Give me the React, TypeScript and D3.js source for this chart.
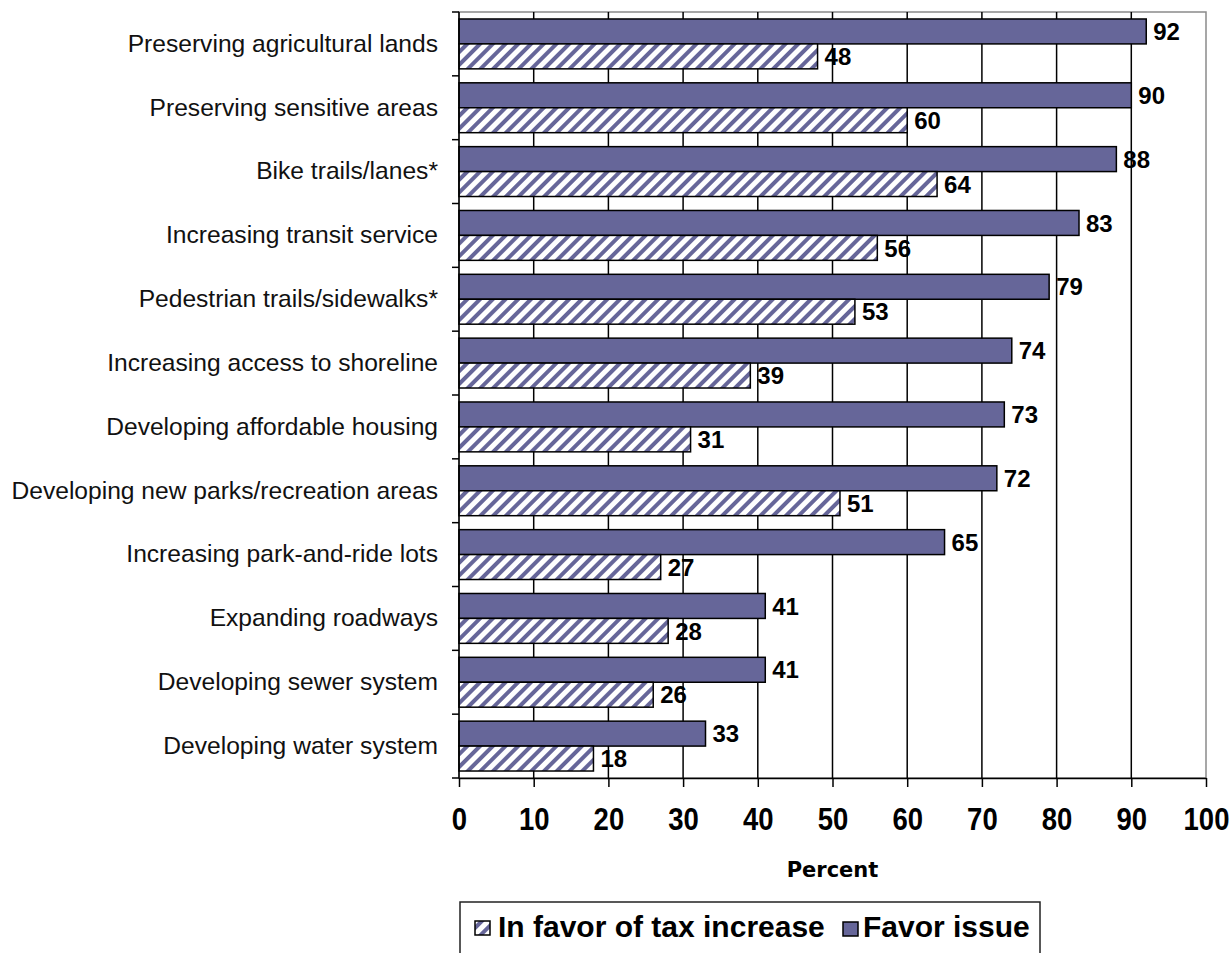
import { useEffect, useRef } from 'react';
import * as d3 from 'd3';

const categories = [
  'Preserving agricultural lands',
  'Preserving sensitive areas',
  'Bike trails/lanes*',
  'Increasing transit service',
  'Pedestrian trails/sidewalks*',
  'Increasing access to shoreline',
  'Developing affordable housing',
  'Developing new parks/recreation areas',
  'Increasing park-and-ride lots',
  'Expanding roadways',
  'Developing sewer system',
  'Developing water system',
];

const favorIssue = [92, 90, 88, 83, 79, 74, 73, 72, 65, 41, 41, 33];
const favorTax = [48, 60, 64, 56, 53, 39, 31, 51, 27, 28, 26, 18];

const xTicks = [0, 10, 20, 30, 40, 50, 60, 70, 80, 90, 100];
const seriesNames = ['In favor of tax increase', 'Favor issue'];

const W = 1232;
const H = 953;
const PURPLE = '#666699';
const FONT = '"Liberation Sans", Arial, sans-serif';

export default function App() {
  const svgRef = useRef<SVGSVGElement>(null);

  useEffect(() => {
    if (!svgRef.current) return;
    const svg = d3.select(svgRef.current);
    svg.selectAll('*').remove();

    const margin = { top: 12, left: 459, right: 26, bottom: 175 };
    const x = d3.scaleLinear().domain([0, 100]).range([margin.left, W - margin.right]);
    const y = d3.scaleBand().domain(categories).range([margin.top, H - margin.bottom]);
    const sub = d3.scaleBand().domain(['issue', 'tax']).range([0, y.bandwidth()]).paddingOuter(0.28);

    // hatch pattern
    const defs = svg.append('defs');
    const pat = defs.append('pattern')
      .attr('id', 'hatch')
      .attr('patternUnits', 'userSpaceOnUse')
      .attr('width', 9)
      .attr('height', 9)
      .attr('patternTransform', 'rotate(45)');
    pat.append('rect').attr('width', 9).attr('height', 9).attr('fill', '#fff');
    pat.append('rect').attr('width', 4).attr('height', 9).attr('fill', PURPLE);

    const [x0, x1] = x.range();
    const [y0, y1] = y.range();

    // plot frame
    svg.append('rect')
      .attr('x', x0).attr('y', y0)
      .attr('width', x1 - x0).attr('height', y1 - y0)
      .attr('fill', '#fff')
      .attr('stroke', '#8a8a8a')
      .attr('stroke-width', 1.5);

    // gridlines
    svg.append('g')
      .selectAll('line')
      .data(xTicks.filter(t => t > 0 && t < 100))
      .join('line')
      .attr('x1', d => x(d)).attr('x2', d => x(d))
      .attr('y1', y0).attr('y2', y1)
      .attr('stroke', '#000')
      .attr('stroke-width', 1.5);

    // bars
    const groups = svg.append('g')
      .selectAll('g')
      .data(categories)
      .join('g')
      .attr('transform', d => `translate(0,${y(d)})`);

    groups.append('rect')
      .attr('x', x(0))
      .attr('y', sub('issue')!)
      .attr('width', (_, i) => x(favorIssue[i]) - x(0))
      .attr('height', sub.bandwidth())
      .attr('fill', PURPLE)
      .attr('stroke', '#000')
      .attr('stroke-width', 1.5);

    groups.append('rect')
      .attr('x', x(0))
      .attr('y', sub('tax')!)
      .attr('width', (_, i) => x(favorTax[i]) - x(0))
      .attr('height', sub.bandwidth())
      .attr('fill', 'url(#hatch)')
      .attr('stroke', '#000')
      .attr('stroke-width', 1.5);

    // value labels
    groups.append('text')
      .attr('x', (_, i) => x(favorIssue[i]) + 7)
      .attr('y', sub('issue')! + sub.bandwidth() / 2)
      .attr('dy', '0.36em')
      .attr('font-family', FONT)
      .attr('font-weight', 'bold')
      .attr('font-size', 24)
      .text((_, i) => favorIssue[i]);

    groups.append('text')
      .attr('x', (_, i) => x(favorTax[i]) + 7)
      .attr('y', sub('tax')! + sub.bandwidth() / 2)
      .attr('dy', '0.36em')
      .attr('font-family', FONT)
      .attr('font-weight', 'bold')
      .attr('font-size', 24)
      .text((_, i) => favorTax[i]);

    // y axis
    const yAxis = svg.append('g');
    yAxis.append('line')
      .attr('x1', x0).attr('x2', x0).attr('y1', y0).attr('y2', y1)
      .attr('stroke', '#000').attr('stroke-width', 1.5);
    const bounds = categories.map(c => y(c)!).concat([y1]);
    yAxis.selectAll('line.tick')
      .data(bounds)
      .join('line')
      .attr('class', 'tick')
      .attr('x1', x0 - 7).attr('x2', x0)
      .attr('y1', d => d).attr('y2', d => d)
      .attr('stroke', '#000').attr('stroke-width', 1.5);
    yAxis.selectAll('text')
      .data(categories)
      .join('text')
      .attr('x', x0 - 21)
      .attr('y', d => y(d)! + y.bandwidth() / 2 - 1)
      .attr('dy', '0.36em')
      .attr('text-anchor', 'end')
      .attr('font-family', FONT)
      .attr('font-size', 24.6)
      .attr('fill', '#111')
      .text(d => d);

    // x axis
    const xAxis = svg.append('g')
      .attr('transform', `translate(0,${y1})`)
      .call(d3.axisBottom(x).tickValues(xTicks).tickSize(9).tickSizeOuter(0).tickPadding(20));
    xAxis.select('.domain').attr('stroke', '#000').attr('stroke-width', 1.5);
    xAxis.selectAll('.tick line').attr('stroke', '#000').attr('stroke-width', 1.5);
    xAxis.selectAll('.tick text')
      .attr('font-family', FONT)
      .attr('font-weight', 'bold')
      .attr('font-size', 32)
      .attr('fill', '#000')
      .attr('transform', 'scale(0.86,1)');

    svg.append('text')
      .attr('x', (x0 + x1) / 2)
      .attr('y', 877)
      .attr('text-anchor', 'middle')
      .attr('font-family', '"DejaVu Sans", Verdana, sans-serif')
      .attr('font-weight', 'bold')
      .attr('font-size', 21)
      .text('Percent');

    // legend
    const lg = svg.append('g');
    lg.append('rect')
      .attr('x', 460).attr('y', 902)
      .attr('width', 580).attr('height', 70)
      .attr('fill', '#fff')
      .attr('stroke', '#222')
      .attr('stroke-width', 1.5);
    lg.append('rect')
      .attr('x', 475).attr('y', 921).attr('width', 15).attr('height', 14)
      .attr('fill', 'url(#hatch)').attr('stroke', '#000').attr('stroke-width', 1.5);
    lg.append('text')
      .attr('x', 498).attr('y', 937)
      .attr('font-family', FONT).attr('font-weight', 'bold').attr('font-size', 30)
      .text(seriesNames[0]);
    lg.append('rect')
      .attr('x', 843).attr('y', 922).attr('width', 15).attr('height', 14)
      .attr('fill', PURPLE).attr('stroke', '#000').attr('stroke-width', 1.5);
    lg.append('text')
      .attr('x', 863).attr('y', 937)
      .attr('font-family', FONT).attr('font-weight', 'bold').attr('font-size', 30)
      .text(seriesNames[1]);
  }, []);

  return (
    <svg
      ref={svgRef}
      width={W}
      height={H}
      style={{ position: 'absolute', left: 0, top: 0, background: '#fff' }}
    />
  );
}
